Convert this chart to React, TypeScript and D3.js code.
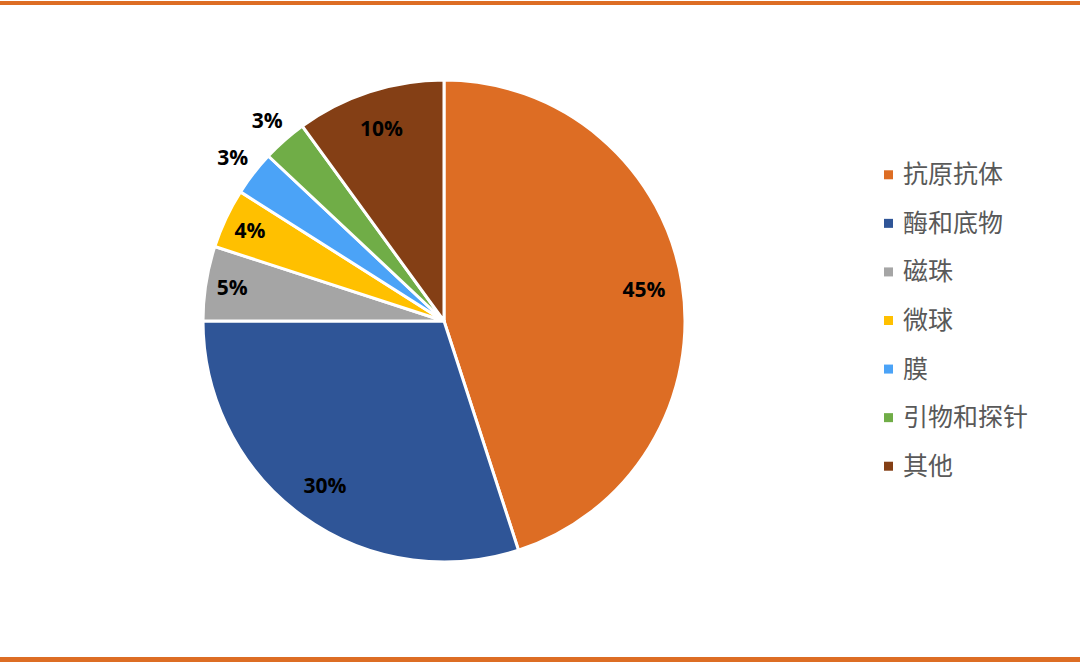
import React from "react";
import * as d3 from "d3";

const categories = ["抗原抗体", "酶和底物", "磁珠", "微球", "膜", "引物和探针", "其他"];
const values = [45, 30, 5, 4, 3, 3, 10];
const labels = ["45%", "30%", "5%", "4%", "3%", "3%", "10%"];
const colors = ["#DD6D24", "#2F5597", "#A5A5A5", "#FFC000", "#4BA3F7", "#70AD47", "#843F15"];
const outside = [false, false, false, false, true, true, false];

export default function App() {
  const W = 1080, H = 664;
  const cx = 444, cy = 321, r = 241;
  const pie = d3.pie<number>().sort(null).value((d) => d)(values);
  const arc = d3.arc<d3.PieArcDatum<number>>().innerRadius(0).outerRadius(r);
  const legendY = d3.scaleBand<string>().domain(categories).range([150, 490]);
  return (
    <div style={{ position: "absolute", left: 0, top: 0 }}>
      <svg width={W} height={H} style={{ display: "block", background: "#fff" }}>
        <rect x={0} y={1} width={W} height={4} fill="#DD6D24" />
        <rect x={0} y={657} width={W} height={5} fill="#DD6D24" />
        <g transform={`translate(${cx},${cy})`}>
          {pie.map((d, i) => (
            <path key={i} d={arc(d) || ""} fill={colors[i]} stroke="#fff" strokeWidth={3} strokeLinejoin="round" />
          ))}
          {pie.map((d, i) => {
            const a = (d.startAngle + d.endAngle) / 2;
            const big = d.endAngle - d.startAngle > 0.5;
            const rr = outside[i] ? r * 1.11 : big ? r * 0.84 : r * 0.89;
            const x = Math.sin(a) * rr;
            const y = -Math.cos(a) * rr;
            return (
              <text key={i} x={x} y={y} textAnchor="middle" dominantBaseline="central"
                fontFamily="'Open Sans', 'Liberation Sans', sans-serif" fontWeight={700} fontSize={21} fill="#000">
                {labels[i]}
              </text>
            );
          })}
        </g>
        <g>
          {categories.map((c, i) => {
            const y = (legendY(c) || 0) + legendY.bandwidth() / 2;
            return (
              <g key={c}>
                <rect x={884} y={y - 4} width={9} height={9} fill={colors[i]} />
                <text x={903} y={y - 2} dominantBaseline="central" fontFamily="'Noto Sans CJK SC', sans-serif"
                  fontSize={25} fill="#595959">{c}</text>
              </g>
            );
          })}
        </g>
      </svg>
    </div>
  );
}
